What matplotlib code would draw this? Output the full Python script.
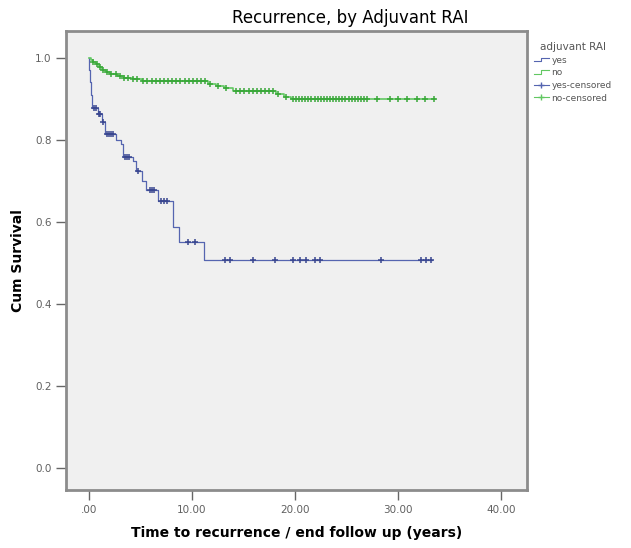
import numpy as np
import matplotlib
matplotlib.use('Agg')
import matplotlib.pyplot as plt
from matplotlib.lines import Line2D
from matplotlib.legend_handler import HandlerBase

# Kaplan-Meier ступени (время, выживаемость)
yes_t = [0, 0.05, 0.1, 0.2, 0.35, 0.9, 1.3, 1.6, 2.6, 3.1, 3.3, 4.3, 4.6, 5.2, 5.6, 6.7, 8.2, 8.8, 11.2]
yes_s = [1.0, 0.97, 0.94, 0.91, 0.878, 0.862, 0.843, 0.815, 0.80, 0.79, 0.758, 0.748, 0.725, 0.70, 0.678, 0.652, 0.588, 0.552, 0.508]
yes_end = 33.3
yes_cens = [0.5, 0.7, 1.0, 1.1, 1.4, 1.8, 2.0, 2.2, 2.4, 3.5, 3.7, 3.9, 4.8, 5.9, 6.1, 6.3, 7.0, 7.3, 7.6,
            9.6, 10.3, 13.2, 13.7, 15.9, 18.1, 19.8, 20.5, 21.1, 21.9, 22.4, 28.3, 32.2, 32.7, 33.2]

no_t = [0, 0.2, 0.4, 0.7, 1.0, 1.3, 1.7, 2.1, 2.7, 3.4, 4.3, 5.2, 11.6, 12.3, 13.1, 14.0, 18.2, 18.9, 19.6]
no_s = [1.0, 0.995, 0.99, 0.984, 0.977, 0.971, 0.965, 0.96, 0.955, 0.951, 0.947, 0.943, 0.937, 0.931, 0.925, 0.919, 0.912, 0.905, 0.899]
no_end = 33.6
no_cens = [0.4, 0.8, 1.1, 1.4, 1.8, 2.2, 2.6, 3.0, 3.4, 3.8, 4.3, 4.7, 5.3, 5.7, 6.1, 6.5, 6.9, 7.3, 7.7,
           8.1, 8.5, 8.9, 9.3, 9.7, 10.1, 10.5, 10.9, 11.3, 11.8, 12.5, 13.3, 14.3, 14.7, 15.1, 15.5,
           15.9, 16.3, 16.7, 17.1, 17.5, 17.9, 18.4, 19.1, 19.8, 20.1, 20.4, 20.7, 21.0, 21.3, 21.6,
           21.9, 22.2, 22.5, 22.8, 23.1, 23.4, 23.7, 24.0, 24.3, 24.6, 24.9, 25.2, 25.5, 25.8, 26.1,
           26.4, 26.7, 27.0, 28.0, 29.2, 30.0, 30.9, 31.8, 32.6, 33.5]

x_ticks = [0, 10, 20, 30, 40]
x_labels = ['.00', '10.00', '20.00', '30.00', '40.00']
y_ticks = [0.0, 0.2, 0.4, 0.6, 0.8, 1.0]
y_labels = ['0.0', '0.2', '0.4', '0.6', '0.8', '1.0']

blue = '#5565b0'
green = '#62c862'
frame = '#8c8c8c'


def surv_at(t, s, c):
    idx = np.searchsorted(t, c, side='right') - 1
    return np.array(s)[idx]


class StepHandler(HandlerBase):
    # иконка в легенде в виде ступеньки, как в SPSS
    def create_artists(self, legend, orig, xd, yd, w, h, fontsize, trans):
        xs = [xd, xd + w * 0.45, xd + w * 0.45, xd + w]
        ys = [yd + h * 0.2, yd + h * 0.2, yd + h * 0.8, yd + h * 0.8]
        ln = Line2D(xs, ys, color=orig.get_color(), lw=0.8, transform=trans)
        return [ln]


fig = plt.figure(figsize=(6.31, 5.48), dpi=100)
ax = fig.add_axes([66 / 631, 1 - 490 / 548, (527 - 66) / 631, (490 - 31) / 548])
ax.set_facecolor('#f0f0f0')

ax.step(yes_t + [yes_end], yes_s + [yes_s[-1]], where='post', color=blue, lw=0.9)
ax.step(no_t + [no_end], no_s + [no_s[-1]], where='post', color=green, lw=1.2)
ax.plot(yes_cens, surv_at(yes_t, yes_s, yes_cens), ls='none', marker='+', ms=5, mew=1.1, color='#3a4790')
ax.plot(no_cens, surv_at(no_t, no_s, no_cens), ls='none', marker='+', ms=5, mew=1.1, color='#3aa83a')

ax.set_xlim(-2.2, 42.5)
ax.set_ylim(-0.053, 1.065)
ax.set_xticks(x_ticks)
ax.set_xticklabels(x_labels)
ax.set_yticks(y_ticks)
ax.set_yticklabels(y_labels)
ax.tick_params(axis='both', length=7, width=1, color='#666666', labelsize=7.5, labelcolor='#606060')

for sp in ax.spines.values():
    sp.set_color(frame)
    sp.set_linewidth(2)

ax.set_xlabel('Time to recurrence / end follow up (years)', fontsize=10, fontweight='bold', labelpad=8)
ax.set_ylabel('Cum Survival', fontsize=10, fontweight='bold', labelpad=7)
fig.text(350 / 631, 1 - 18 / 548, 'Recurrence, by Adjuvant RAI', ha='center', va='center', fontsize=12)

h_yes = Line2D([], [], color=blue)
h_no = Line2D([], [], color=green)
h_yc = Line2D([], [], color=blue, marker='+', ms=5, lw=0.8)
h_nc = Line2D([], [], color=green, marker='+', ms=5, lw=0.8)
leg = fig.legend([h_yes, h_no, h_yc, h_nc], ['yes', 'no', 'yes-censored', 'no-censored'],
                 title='adjuvant RAI', loc='upper left', bbox_to_anchor=(526 / 631, 1 - 34 / 548),
                 frameon=False, fontsize=6.5, title_fontsize=7.5, handlelength=1.6, handletextpad=0.3,
                 labelspacing=0.4, handler_map={h_yes: StepHandler(), h_no: StepHandler()})
leg.get_title().set_color('#555555')
for txt in leg.get_texts():
    txt.set_color('#555555')

fig.savefig('out.png', dpi=100)
